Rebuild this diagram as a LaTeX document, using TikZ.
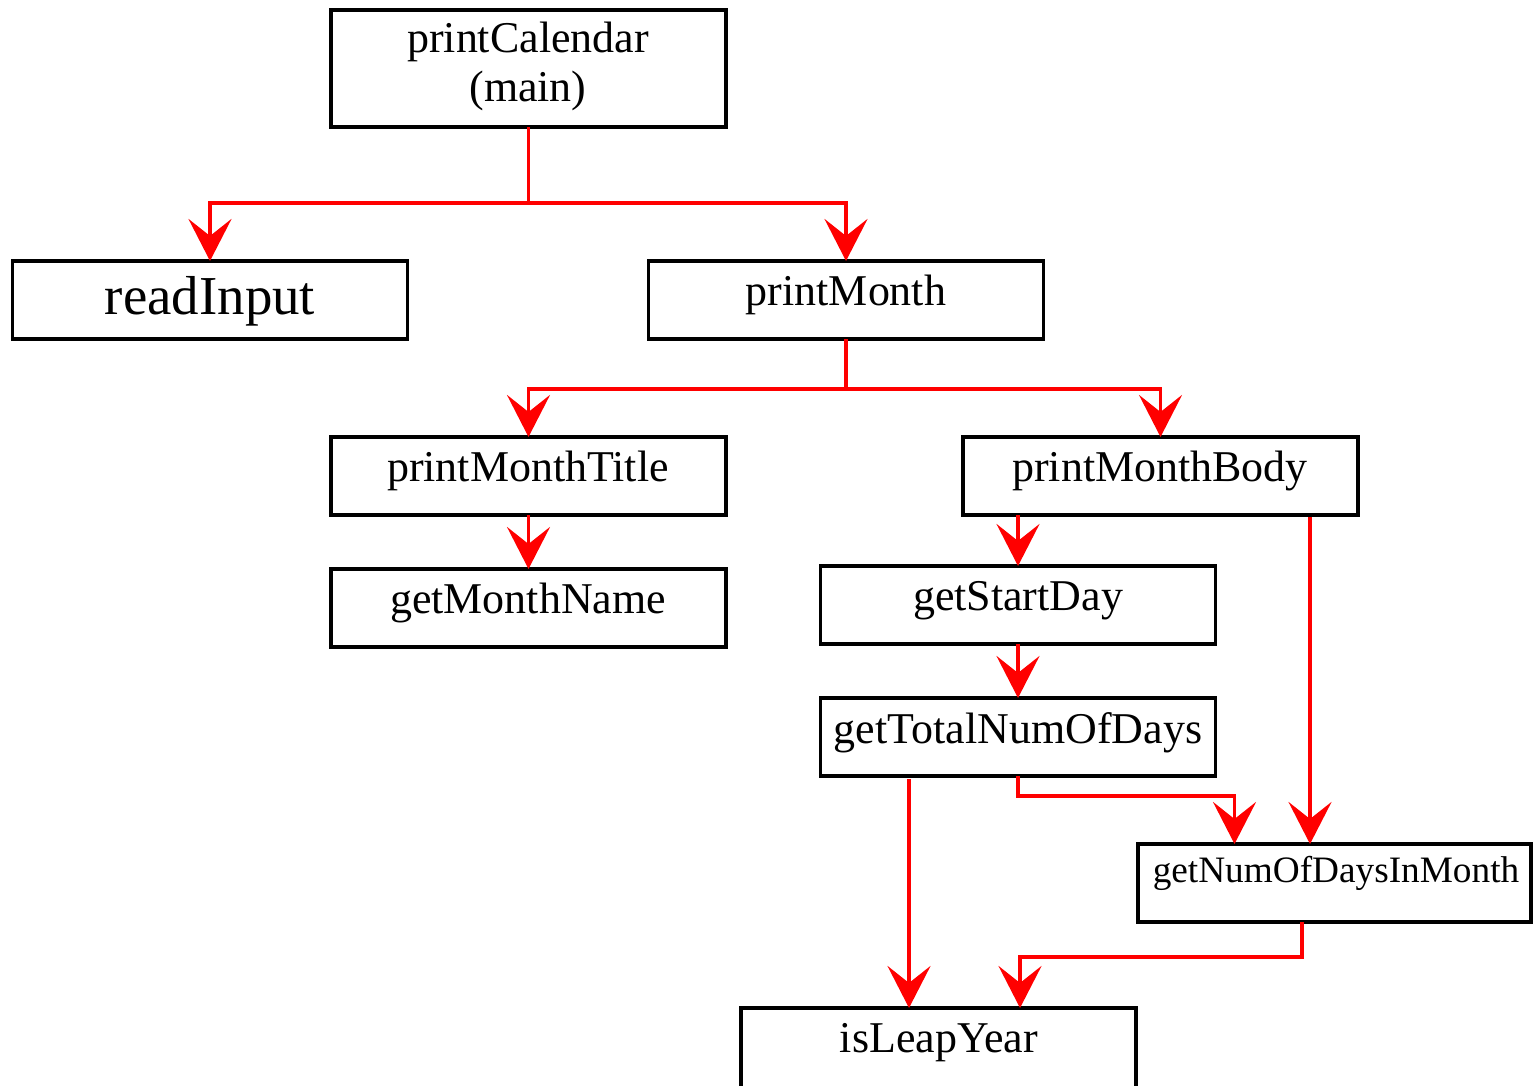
\documentclass[tikz,border=0pt]{standalone}
\usepackage{fontspec}
\setmainfont{Liberation Serif}
\usetikzlibrary{arrows.meta,calc}
\tikzset{
  box/.style={draw=black, line width=0.035cm, rectangle, inner sep=0pt, outer sep=0pt},
  stdbox/.style={box, minimum width=3.95cm, minimum height=0.78cm},
  lbl/.style={anchor=base, inner sep=0pt, outer sep=0pt, font=\fontsize{12.5pt}{15pt}\selectfont},
  biglbl/.style={lbl, font=\fontsize{15.6pt}{18pt}\selectfont},
  smalllbl/.style={lbl, font=\fontsize{10.6pt}{12pt}\selectfont},
  conn/.style={draw=red, line width=0.033cm},
  arr/.style={conn, -{Stealth[length=0.42cm, width=0.43cm, inset=0.17cm]}},
}
\begin{document}
\begin{tikzpicture}[x=0.01cm, y=-0.01cm]
\useasboundingbox (0,0) rectangle (1534,1085);
\fill[white] (0,0) rectangle (1534,1085);

% boxes
\node[box, minimum width=3.95cm, minimum height=1.17cm] (pc) at (528.5,68.5) {};
\node[stdbox] (ri) at (210,300) {};
\node[stdbox] (pm) at (846,300) {};
\node[stdbox] (pmt) at (528.5,476) {};
\node[stdbox] (pmb) at (1160.5,476) {};
\node[stdbox] (gmn) at (528.5,608) {};
\node[stdbox] (gsd) at (1018,605) {};
\node[stdbox] (gtd) at (1018,737) {};
\node[box, minimum width=3.93cm, minimum height=0.78cm] (gnd) at (1334.5,883) {};
\node[box, minimum width=3.95cm, minimum height=1cm] (ily) at (938.5,1058) {};

% texts
\node[lbl] (tpc1) at (528,52.5) {printCalendar};
\node[lbl] (tpc2) at (528,102) {(main)};
\node[biglbl] (tri) at (210,314) {readInput};
\node[lbl] (tpm) at (846,305) {printMonth};
\node[lbl] (tpmt) at (528,481) {printMonthTitle};
\node[lbl] (tpmb) at (1160,481) {printMonthBody};
\node[lbl] (tgmn) at (528,613) {getMonthName};
\node[lbl] (tgsd) at (1018,610) {getStartDay};
\node[lbl] (tgtd) at (1018,743) {getTotalNumOfDays};
\node[smalllbl] (tgnd) at (1336,882) {getNumOfDaysInMonth};
\node[lbl] (tily) at (939,1052) {isLeapYear};

% connectors
\coordinate (j1) at ($(pc.south)+(0,76)$);
\draw[conn] (pc.south) -- (j1);
\draw[arr] (j1) -| (ri.north);
\draw[arr] (j1) -| (pm.north);

\coordinate (j2) at ($(pm.south)+(0,50)$);
\draw[conn] (pm.south) -- (j2);
\draw[arr] (j2) -| (pmt.north);
\draw[arr] (j2) -| (pmb.north);

\draw[arr] (pmt.south) -- (gmn.north);
\draw[arr] (gsd.north |- pmb.south) -- (gsd.north);
\draw[arr] ($(pmb.south)+(149.5,2)$) -- ($(gnd.north)+(-24.5,0)$);
\draw[arr] (gsd.south) -- (gtd.north);
\draw[arr] (gtd.south) -- ++(0,20) -| ($(gnd.north)+(-100,0)$);
\draw[arr] ($(gtd.south)+(-109,3)$) -- ($(ily.north)+(-29.5,0)$);
\draw[arr] ($(gnd.south)+(-32.5,0)$) -- ++(0,35) -| ($(ily.north)+(81.5,0)$);
\end{tikzpicture}
\end{document}
